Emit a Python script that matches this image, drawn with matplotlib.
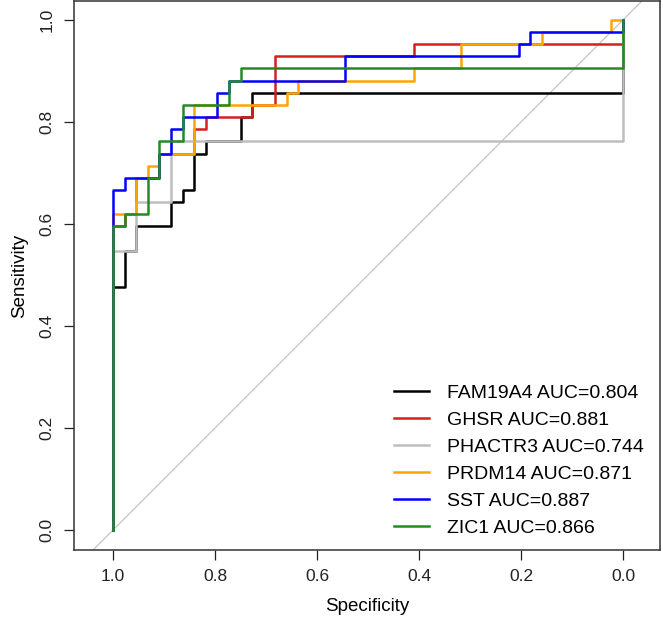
import numpy as np
import matplotlib
matplotlib.use("Agg")
import matplotlib.pyplot as plt

plt.rcParams["font.family"] = ["Liberation Sans", "DejaVu Sans"]

# ROC staircases, in counts:
# at control count `breaks[k]` the curve rises to `levels[k]` true positives
n_cases = 42
n_controls = 44

names = ["FAM19A4", "GHSR", "PHACTR3", "PRDM14", "SST", "ZIC1"]
auc = [0.804, 0.881, 0.744, 0.871, 0.887, 0.866]
colors = ["black", "#d42020", "#bebebe", "#ffa500", "#0000ff", "#228b22"]

fam19a4_breaks = [0, 1, 2, 5, 6, 7, 8, 11, 12, 44]
fam19a4_levels = [20, 23, 25, 27, 28, 31, 32, 34, 36, 42]
ghsr_breaks = [0, 1, 2, 4, 7, 8, 12, 14, 26, 44]
ghsr_levels = [25, 26, 29, 31, 33, 34, 35, 39, 40, 42]
phactr3_breaks = [0, 2, 5, 44]
phactr3_levels = [23, 27, 32, 42]
prdm14_breaks = [0, 2, 3, 4, 7, 15, 16, 26, 30, 37, 43, 44]
prdm14_levels = [26, 29, 30, 31, 35, 36, 37, 38, 40, 41, 42, 42]
sst_breaks = [0, 1, 4, 5, 6, 9, 10, 20, 35, 36, 44]
sst_levels = [28, 29, 31, 33, 34, 36, 37, 39, 40, 41, 42]
zic1_breaks = [0, 1, 3, 4, 6, 10, 11, 44]
zic1_levels = [25, 26, 29, 32, 35, 37, 38, 42]

curves = [
    (fam19a4_breaks, fam19a4_levels),
    (ghsr_breaks, ghsr_levels),
    (phactr3_breaks, phactr3_levels),
    (prdm14_breaks, prdm14_levels),
    (sst_breaks, sst_levels),
    (zic1_breaks, zic1_levels),
]

fig = plt.figure(figsize=(6.63, 6.28), dpi=100)
ax = fig.add_axes([74 / 663, 78 / 628, 586 / 663, 549 / 628])

# chance line
ax.plot([1.1, -0.1], [-0.1, 1.1], color="#bebebe", lw=0.8, zorder=1)

for (breaks, levels), name, a, col in zip(curves, names, auc, colors):
    spec = 1 - np.repeat(breaks, 2) / n_controls
    sens = np.concatenate([[0], np.repeat(levels, 2)[:-1]]) / n_cases
    ax.plot(spec, sens, color=col, lw=1.8, label=f"{name} AUC={a:.3f}", zorder=2)

ax.set_xlim(1.0765, -0.0725)
ax.set_ylim(-0.039, 1.037)
ticks = [0.0, 0.2, 0.4, 0.6, 0.8, 1.0]
ax.set_xticks(ticks)
ax.set_yticks(ticks)
ax.set_xticklabels([f"{t:.1f}" for t in ticks])
ax.set_yticklabels([f"{t:.1f}" for t in ticks], rotation=90, va="center")
ax.tick_params(direction="out", length=7, width=0.9, labelsize=12.5, pad=7,
               colors="#222222")
for s in ax.spines.values():
    s.set_linewidth(1.1)
    s.set_color("#333333")

ax.set_xlabel("Specificity", fontsize=13.5, labelpad=10)
ax.set_ylabel("Sensitivity", fontsize=13.5, labelpad=8)

ax.legend(loc="lower right", bbox_to_anchor=(0.9898, 0.006), frameon=False,
          fontsize=14, handlelength=1.8, handletextpad=0.93,
          labelspacing=0.48, borderpad=0)

fig.savefig("out.png", dpi=100)
